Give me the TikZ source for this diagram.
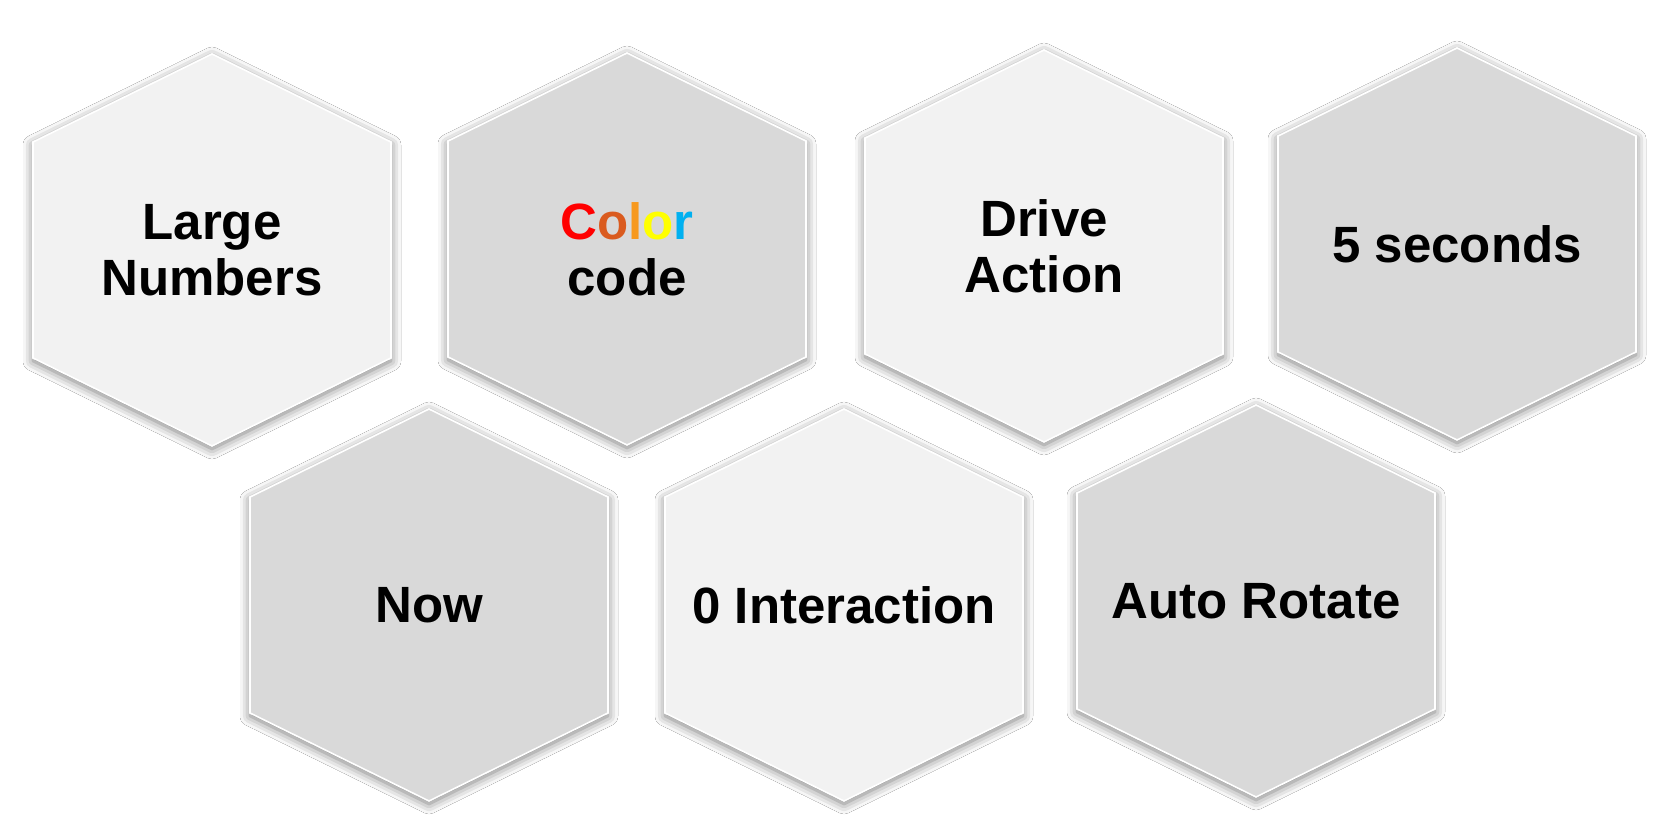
\documentclass[tikz,border=0pt]{standalone}
\usepackage{fontspec}
\setmainfont{Liberation Sans}
\usepackage{tikz}
\usetikzlibrary{shadows.blur}

\definecolor{hexlight}{HTML}{F2F2F2}
\definecolor{hexdark}{HTML}{D9D9D9}
\definecolor{cred}{HTML}{FF0000}
\definecolor{crust}{HTML}{DA5B1F}
\definecolor{corange}{HTML}{F7991E}
\definecolor{cyellow}{HTML}{FFFF00}
\definecolor{cblue}{HTML}{00B0F0}

\begin{document}
\begin{tikzpicture}[x=1pt, y=-1pt,
  hexcell/.style={draw=white, line width=1.6pt, line join=miter,
    blur shadow={shadow xshift=0pt, shadow yshift=-3pt,
      shadow blur radius=10pt, shadow opacity=55}},
  hexlabel/.style={font=\fontsize{51}{56}\selectfont\bfseries,
    align=center, text=black, inner sep=0pt}]
  \useasboundingbox[fill=white] (0,0) rectangle (1668,826);
  % hexagon cells: centre x / centre y / fill / name / text
  \foreach \cx/\cy/\fc/\nm/\txt in {
      212/250/hexlight/large/{Large\\Numbers},
      627/249/hexdark/color/{\textcolor{cred}{C}\textcolor{crust}{o}\textcolor{corange}{l}\textcolor{cyellow}{o}\textcolor{cblue}{r}\\code},
      1044/246/hexlight/drive/{Drive\\Action},
      1457/244/hexdark/seconds/{5 seconds},
      429/605/hexdark/now/{Now},
      844/605/hexlight/interact/{0 Interaction},
      1256/601/hexdark/rotate/{Auto Rotate}} {
    \begin{scope}[shift={(\cx,\cy)}]
      \draw[hexcell, fill=\fc] (0,-196) -- (179,-108) -- (179,108)
        -- (0,196) -- (-179,108) -- (-179,-108) -- cycle;
      \node[hexlabel] (\nm) at (0,0) {\txt};
    \end{scope}
  }
\end{tikzpicture}
\end{document}
